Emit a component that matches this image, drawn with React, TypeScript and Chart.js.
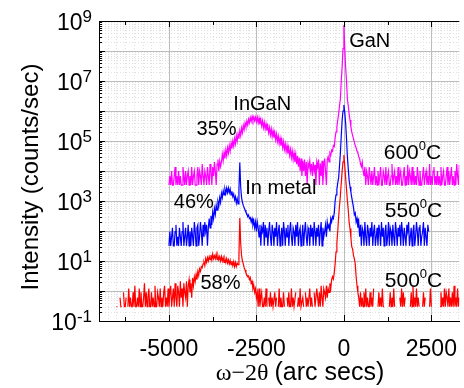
import React, { useEffect, useRef } from 'react';
import { Chart, registerables } from 'chart.js';

Chart.register(...registerables);

// ω–2θ positions (arc secs), one row per 500 arc secs
const X = [
  -6500, -6475, -6450, -6425, -6400, -6375, -6350, -6325, -6300, -6275, -6250, -6225, -6200, -6175, -6150, -6125, -6100, -6075, -6050, -6025,
  -6000, -5975, -5950, -5925, -5900, -5875, -5850, -5825, -5800, -5775, -5750, -5725, -5700, -5675, -5650, -5625, -5600, -5575, -5550, -5525,
  -5500, -5475, -5450, -5425, -5400, -5375, -5350, -5325, -5300, -5275, -5250, -5225, -5200, -5175, -5150, -5125, -5100, -5075, -5050, -5025,
  -5000, -4975, -4950, -4925, -4900, -4875, -4850, -4825, -4800, -4775, -4750, -4725, -4700, -4675, -4650, -4625, -4600, -4575, -4550, -4525,
  -4500, -4475, -4450, -4425, -4400, -4375, -4350, -4325, -4300, -4275, -4250, -4225, -4200, -4175, -4150, -4125, -4100, -4075, -4050, -4025,
  -4000, -3975, -3950, -3925, -3900, -3875, -3850, -3825, -3800, -3775, -3750, -3725, -3700, -3675, -3650, -3625, -3600, -3575, -3550, -3525,
  -3500, -3475, -3450, -3425, -3400, -3375, -3350, -3325, -3300, -3275, -3250, -3225, -3200, -3175, -3150, -3125, -3100, -3075, -3050, -3025,
  -3000, -2975, -2950, -2925, -2900, -2875, -2850, -2825, -2800, -2775, -2750, -2725, -2700, -2675, -2650, -2625, -2600, -2575, -2550, -2525,
  -2500, -2475, -2450, -2425, -2400, -2375, -2350, -2325, -2300, -2275, -2250, -2225, -2200, -2175, -2150, -2125, -2100, -2075, -2050, -2025,
  -2000, -1975, -1950, -1925, -1900, -1875, -1850, -1825, -1800, -1775, -1750, -1725, -1700, -1675, -1650, -1625, -1600, -1575, -1550, -1525,
  -1500, -1475, -1450, -1425, -1400, -1375, -1350, -1325, -1300, -1275, -1250, -1225, -1200, -1175, -1150, -1125, -1100, -1075, -1050, -1025,
  -1000, -975, -950, -925, -900, -875, -850, -825, -800, -775, -750, -725, -700, -675, -650, -625, -600, -575, -550, -525,
  -500, -475, -450, -425, -400, -375, -350, -325, -300, -275, -250, -225, -200, -175, -150, -125, -100, -75, -50, -25,
  0, 25, 50, 75, 100, 125, 150, 175, 200, 225, 250, 275, 300, 325, 350, 375, 400, 425, 450, 475,
  500, 525, 550, 575, 600, 625, 650, 675, 700, 725, 750, 775, 800, 825, 850, 875, 900, 925, 950, 975,
  1000, 1025, 1050, 1075, 1100, 1125, 1150, 1175, 1200, 1225, 1250, 1275, 1300, 1325, 1350, 1375, 1400, 1425, 1450, 1475,
  1500, 1525, 1550, 1575, 1600, 1625, 1650, 1675, 1700, 1725, 1750, 1775, 1800, 1825, 1850, 1875, 1900, 1925, 1950, 1975,
  2000, 2025, 2050, 2075, 2100, 2125, 2150, 2175, 2200, 2225, 2250, 2275, 2300, 2325, 2350, 2375, 2400, 2425, 2450, 2475,
  2500, 2525, 2550, 2575, 2600, 2625, 2650, 2675, 2700, 2725, 2750, 2775, 2800, 2825, 2850, 2875, 2900, 2925, 2950, 2975,
  3000, 3025, 3050, 3075, 3100, 3125, 3150, 3175, 3200, 3225, 3250, 3275, 3300,
];

// 600°C scan (counts/sec)
const M600 = [
  null, null, null, null, null, null, null, null, null, null, null, null, null, null, null, null, null, null, null, null,
  null, null, null, null, null, null, null, null, null, null, null, null, null, null, null, null, null, null, null, null,
  null, null, null, null, null, null, null, null, null, null, null, null, null, null, null, null, null, null, null, null,
  3400, 6800, 3400, 10000, 3400, 3400, 6800, 13500, 3400, 6800, 3400, 10000, 3400, 6800, 3400, 3400, 13500, 6800, 3400, 10000,
  3400, 6800, 10000, 3400, 6800, 3400, 13500, 3400, 6800, 10000, 3400, 3400, 6800, 13500, 3400, 10000, 6800, 3400, 17000, 6800,
  3400, 10000, 6800, 3400, 13500, 6800, 3400, 17000, 10000, 3400, 13500, 6800, 20000, 10000, 3400, 17000, 24000, 10000, 21000, 14000,
  20000, 36000, 22000, 42000, 26000, 50000, 32000, 60000, 40000, 70000, 46000, 85000, 56000, 100000, 68000, 120000, 80000, 150000, 100000, 170000,
  120000, 220000, 150000, 270000, 190000, 330000, 240000, 400000, 300000, 460000, 340000, 530000, 400000, 600000, 450000, 650000, 480000, 640000, 470000, 620000,
  440000, 620000, 400000, 580000, 360000, 520000, 320000, 470000, 280000, 420000, 250000, 370000, 220000, 320000, 190000, 280000, 160000, 250000, 140000, 220000,
  130000, 190000, 110000, 170000, 95000, 145000, 82000, 125000, 70000, 110000, 60000, 95000, 52000, 80000, 45000, 70000, 38000, 60000, 33000, 52000,
  28000, 46000, 24000, 40000, 20000, 36000, 17000, 32000, 14000, 28000, 10000, 26000, 6800, 22000, 10000, 24000, 6800, 20000, 3400, 18000,
  13500, 22000, 10000, 17000, 6800, 20000, 10000, 16000, 3400, 20000, 13500, 24000, 3400, 18000, 6800, 22000, 3400, 14000, 26000, 10000,
  3400, 24000, 30000, 20000, 40000, 34000, 50000, 45000, 70000, 65000, 130000, 200000, 300000, 500000, 800000, 1500000, 2500000, 10000000, 30000000, 120000000,
  740000000, 120000000, 30000000, 10000000, 2500000, 1500000, 800000, 500000, 300000, 200000, 150000, 120000, 90000, 70000, 60000, 45000, 40000, 30000, 26000, 17000,
  14000, 20000, 10000, 6800, 13500, 3400, 10000, 6800, 3400, 13500, 6800, 3400, 10000, 3400, 6800, 13500, 3400, 6800, 3400, 10000,
  3400, 6800, 13500, 3400, 3400, 10000, 6800, 3400, 13500, 3400, 6800, 10000, 3400, 3400, 6800, 17000, 3400, 6800, 10000, 3400,
  6800, 3400, 13500, 3400, 6800, 10000, 3400, 3400, 6800, 13500, 3400, 6800, 3400, 16000, 3400, 10000, 6800, 3400, 13500, 3400,
  10000, 3400, 6800, 3400, 13500, 6800, 3400, 10000, 3400, 3400, 6800, 13500, 3400, 6800, 10000, 3400, 6800, 3400, 17000, 3400,
  6800, 3400, 10000, 13500, 3400, 6800, 3400, 10000, 3400, 6800, 3400, 13500, 3400, 6800, 10000, 3400, 3400, 6800, 13500, 3400,
  10000, 3400, 6800, 13500, 3400, 6800, 3400, 10000, 3400, 17000, 6800, 3400, 16000,
];

// 550°C scan (counts/sec)
const B550 = [
  null, null, null, null, null, null, null, null, null, null, null, null, null, null, null, null, null, null, null, null,
  null, null, null, null, null, null, null, null, null, null, null, null, null, null, null, null, null, null, null, null,
  null, null, null, null, null, null, null, null, null, null, null, null, null, null, null, null, null, null, null, null,
  32, 96, 32, 64, 128, 32, 32, 96, 160, 32, 64, 32, 128, 64, 32, 96, 200, 32, 64, 128,
  32, 64, 160, 32, 96, 32, 128, 64, 32, 200, 96, 32, 128, 160, 32, 64, 200, 96, 32, 160,
  64, 200, 96, 160, 32, 128, 260, 128, 320, 160, 420, 260, 560, 360, 720, 500, 950, 700, 1300, 900,
  1800, 1300, 2200, 1600, 2500, 1800, 2700, 1900, 2700, 1900, 2500, 1600, 2100, 1400, 1700, 1100, 1400, 850, 1200, 800,
  2500, 19000, 3000, 1300, 900, 700, 600, 500, 420, 380, 300, 340, 260, 280, 200, 260, 160, 220, 128, 200,
  96, 200, 128, 64, 160, 32, 128, 96, 200, 32, 160, 64, 128, 32, 96, 200, 64, 32, 160, 96,
  32, 128, 64, 200, 32, 96, 160, 32, 64, 128, 32, 200, 96, 32, 128, 64, 160, 32, 96, 200,
  64, 32, 128, 96, 32, 160, 64, 200, 32, 96, 128, 32, 64, 160, 32, 96, 200, 64, 32, 128,
  96, 32, 160, 64, 128, 32, 200, 96, 32, 128, 64, 160, 32, 96, 200, 32, 128, 64, 96, 160,
  64, 200, 128, 160, 96, 260, 200, 300, 260, 400, 1000, 1600, 2500, 4000, 6000, 15000, 40000, 150000, 500000, 1000000,
  1600000, 900000, 400000, 120000, 30000, 12000, 5000, 3000, 2000, 1300, 900, 600, 350, 400, 200, 260, 128, 200, 64, 160,
  32, 128, 96, 32, 200, 64, 32, 160, 96, 32, 128, 64, 200, 32, 96, 160, 32, 64, 128, 32,
  160, 96, 32, 200, 64, 128, 32, 96, 160, 32, 64, 200, 32, 128, 96, 32, 160, 64, 32, 200,
  96, 32, 128, 64, 160, 32, 200, 96, 32, 128, 64, 32, 160, 96, 200, 32, 64, 128, 32, 96,
  160, 32, 64, 200, 96, 32, 128, 160, 32, 64, 96, 200, 32, 128, 64, 32, 160, 96, null, null,
  null, null, null, null, null, null, null, null, null, null, null, null, null, null, null, null, null, null, null, null,
  null, null, null, null, null, null, null, null, null, null, null, null, null,
];

// 500°C scan (counts/sec)
const R500 = [
  0.3, 0.3, null, null, 0.6, 0.3, 0.3, null, 0.9, 0.3, 0.3, 0.6, null, 0.3, 1.2, 0.3, 0.6, 0.3, 0.3, 0.9,
  0.3, 1.5, 0.3, 0.3, 0.6, 0.3, 1.2, 0.3, 0.9, 0.3, 0.3, 0.6, 1.8, 0.3, 0.9, 0.3, 0.6, 1.2, 0.3, 0.3,
  0.9, 0.3, 0.6, 0.3, 1.5, 0.3, 0.3, 0.9, 0.6, 0.3, 1.2, 0.3, 0.6, 0.3, 0.9, 1.5, 0.3, 0.6, 0.3, 1.2,
  0.3, 0.9, 1.5, 0.3, 0.6, 1.2, 0.3, 1.8, 0.6, 0.3, 1.5, 0.9, 0.3, 2.1, 0.6, 1.2, 0.3, 1.8, 0.9, 0.6,
  2.1, 0.3, 1.5, 2.4, 0.9, 1.8, 0.6, 2.7, 1.5, 3.0, 2.1, 3.6, 2.4, 4.5, 3.3, 5.5, 4.5, 6.5, 6, 8,
  9, 7, 12, 9, 13, 10, 14, 11, 16, 11, 17, 12, 15, 12, 17, 11, 15, 11, 14, 10,
  14, 10, 13, 9, 12, 9, 12, 8.5, 11, 8, 10.5, 7.5, 10, 7, 9.5, 6.5, 9, 6.5, 8.5, 7.5,
  15, 270, 40, 15, 10, 8, 6, 5, 4, 3.5, 3, 3.2, 2.4, 2.8, 1.8, 2.1, 1.2, 1.5, 0.9, 1.2,
  0.6, 0.9, 0.3, 1.2, 0.3, 0.6, 0.9, 0.3, 0.3, 0.6, 0.3, 1.2, 0.3, null, 0.6, 0.3, 0.9, 0.3, 0.6, 0.3,
  0.3, 0.9, 0.3, 0.6, null, 0.3, 1.2, 0.3, 0.6, 0.3, 0.3, 0.9, 0.3, null, null, 0.6, 0.3, 0.9, 0.3, 0.3,
  1.2, 0.3, 0.6, 0.3, 0.3, 0.9, null, 0.3, 0.6, 0.3, 1.2, 0.3, 0.3, 0.6, 0.3, null, 0.9, 0.3, 0.6, 0.3,
  0.3, 1.2, 0.3, 0.6, 0.3, null, 0.9, 0.3, 0.3, 1.2, 0.6, 0.3, 0.9, 0.3, 1.5, 0.6, 0.3, 1.2, 0.9, 0.6,
  1.5, 0.6, 1.2, 0.9, 1.8, 1.2, 2.4, 3, 2.5, 4, 8, 20, 40, 100, 300, 700, 1500, 4000, 10000, 20000,
  34000, 15000, 6000, 2500, 1000, 500, 200, 120, 60, 30, 25, 15, 12, 8, 3, 1.5, 0.9, 0.6, 0.3, 0.9,
  0.3, 0.6, 0.3, 0.9, 0.3, 1.2, 0.3, 0.6, 0.3, 0.3, 0.9, 0.3, 0.6, 0.3, 1.2, null, null, null, null, 0.3,
  0.9, 0.3, 0.6, 0.3, 1.2, 0.3, 0.3, null, null, null, null, null, 0.3, 0.9, 0.3, 0.6, 0.3, 1.2, 0.3, null,
  null, null, null, null, 0.6, 0.3, 1.2, 0.3, 0.9, 0.3, 0.6, null, null, null, null, null, 0.3, 0.9, 0.3, 1.5,
  0.3, 0.6, 0.3, 1.2, 0.3, 0.6, 0.3, null, null, null, 0.3, 0.9, 0.3, 0.6, null, null, null, null, 0.3, 1.2,
  0.3, null, null, null, null, null, null, null, null, null, 0.3, 0.9, 0.3, 0.6, 0.3, 1.2, 0.3, 0.9, 0.6, 0.3,
  1.2, 0.3, 0.6, 0.3, 0.9, 0.3, 1.5, 0.3, 0.6, 0.3, 1.2, 0.3, 0.6,
];

const X_MIN = -7000;
const X_MAX = 3300;
const Y_MIN = 0.1;
const Y_MAX = 1e9;
const X_TICK_VALUES = [-5000, -2500, 0, 2500];
const X_MINOR_MARKS = [-6250, -3750, -1250, 1250];
const Y_LABEL_EXPONENTS = [-1, 1, 3, 5, 7, 9];

// annotation texts anchored in data coordinates (left edge, baseline)
const PEAK_LABELS = [
  { text: 'GaN', x: 150, y: 1.4e8 },
  { text: 'InGaN', x: -3160, y: 1.1e6 },
  { text: '35%', x: -4210, y: 1.6e5 },
  { text: 'In metal', x: -2820, y: 1700 },
  { text: '46%', x: -4860, y: 590 },
  { text: '58%', x: -4100, y: 1.17 },
];
const TEMP_LABELS = [
  { text: '600', x: 1140, y: 25000 },
  { text: '550', x: 1170, y: 290 },
  { text: '500', x: 1170, y: 1.35 },
];

const SANS = "'Liberation Sans', Arial, Helvetica, sans-serif";
const SERIF = "'Liberation Serif', 'Times New Roman', serif";

const decor = {
  id: 'decor',
  beforeDatasetsDraw(chart: any) {
    const { ctx, chartArea: a, scales } = chart;
    const xs = scales.x;
    const ys = scales.y;
    ctx.save();
    ctx.lineWidth = 1;
    ctx.strokeStyle = '#e0e0e0';
    ctx.setLineDash([1, 2]);
    ctx.beginPath();
    for (let v = X_MIN + 250; v < X_MAX; v += 250) {
      if (v % 2500 === 0) continue;
      const px = Math.round(xs.getPixelForValue(v)) + 0.5;
      ctx.moveTo(px, a.top);
      ctx.lineTo(px, a.bottom);
    }
    for (let e = -1; e < 9; e++) {
      for (let s = 2; s <= 9; s++) {
        const py = Math.round(ys.getPixelForValue(s * Math.pow(10, e))) + 0.5;
        ctx.moveTo(a.left, py);
        ctx.lineTo(a.right, py);
      }
    }
    ctx.stroke();
    ctx.setLineDash([]);
    ctx.strokeStyle = '#bdbdbd';
    ctx.beginPath();
    X_TICK_VALUES.forEach((v) => {
      const px = Math.round(xs.getPixelForValue(v)) + 0.5;
      ctx.moveTo(px, a.top);
      ctx.lineTo(px, a.bottom);
    });
    for (let e = 0; e <= 8; e++) {
      const py = Math.round(ys.getPixelForValue(Math.pow(10, e))) + 0.5;
      ctx.moveTo(a.left, py);
      ctx.lineTo(a.right, py);
    }
    ctx.stroke();
    ctx.restore();
  },
  afterDatasetsDraw(chart: any) {
    const { ctx, chartArea: a, scales } = chart;
    const xs = scales.x;
    const ys = scales.y;
    ctx.save();
    ctx.strokeStyle = '#000';
    ctx.lineWidth = 1;
    ctx.beginPath();
    ctx.moveTo(a.left, Math.round(a.top) + 0.5);
    ctx.lineTo(a.right, Math.round(a.top) + 0.5);
    const markX = (v: number, len: number) => {
      const px = Math.round(xs.getPixelForValue(v)) + 0.5;
      ctx.moveTo(px, a.bottom);
      ctx.lineTo(px, a.bottom - len);
      ctx.moveTo(px, a.top);
      ctx.lineTo(px, a.top + len);
    };
    X_TICK_VALUES.forEach((v) => markX(v, 6));
    X_MINOR_MARKS.forEach((v) => markX(v, 4));
    for (let e = -1; e <= 9; e++) {
      for (let s = 1; s <= 9; s++) {
        const val = s * Math.pow(10, e);
        if (val > Y_MAX) break;
        const py = Math.round(ys.getPixelForValue(val)) + 0.5;
        ctx.moveTo(a.left, py);
        ctx.lineTo(a.left + (s === 1 ? 6 : 3), py);
      }
    }
    ctx.stroke();

    ctx.fillStyle = '#000';
    const right = 92;
    Y_LABEL_EXPONENTS.forEach((e) => {
      const py = ys.getPixelForValue(Math.pow(10, e));
      const exp = String(e);
      ctx.font = `17px ${SANS}`;
      ctx.textAlign = 'left';
      ctx.textBaseline = 'alphabetic';
      const ew = ctx.measureText(exp).width;
      ctx.fillText(exp, right - ew, py + 1);
      ctx.font = `23px ${SANS}`;
      const bw = ctx.measureText('10').width;
      ctx.fillText('10', right - ew - bw, py + 8.5);
    });

    ctx.font = `24px ${SANS}`;
    ctx.textAlign = 'center';
    ctx.textBaseline = 'alphabetic';
    ctx.save();
    ctx.translate(38, 177);
    ctx.rotate(-Math.PI / 2);
    ctx.fillText('Intensity (counts/sec)', 0, 0);
    ctx.restore();

    const part1 = 'ω−2θ ';
    const part2 = '(arc secs)';
    ctx.font = `24px ${SERIF}`;
    const w1 = ctx.measureText(part1).width;
    ctx.font = `25px ${SANS}`;
    const w2 = ctx.measureText(part2).width;
    const startX = 300 - (w1 + w2) / 2;
    ctx.textAlign = 'left';
    ctx.font = `24px ${SERIF}`;
    ctx.fillText(part1, startX, 380);
    ctx.font = `25px ${SANS}`;
    ctx.fillText(part2, startX + w1, 380);

    ctx.font = `20px ${SANS}`;
    PEAK_LABELS.forEach((l) => {
      ctx.fillText(l.text, xs.getPixelForValue(l.x), ys.getPixelForValue(l.y));
    });
    TEMP_LABELS.forEach((l) => {
      const px = xs.getPixelForValue(l.x);
      const py = ys.getPixelForValue(l.y);
      ctx.font = `21px ${SANS}`;
      ctx.fillText(l.text, px, py);
      const w = ctx.measureText(l.text).width;
      ctx.font = `13px ${SANS}`;
      ctx.fillText('0', px + w, py - 9);
      const w0 = ctx.measureText('0').width;
      ctx.font = `21px ${SANS}`;
      ctx.fillText('C', px + w + w0, py);
    });
    ctx.restore();
  },
};

export default function App() {
  const ref = useRef<HTMLCanvasElement>(null);
  useEffect(() => {
    const canvas = ref.current;
    if (!canvas) return;
    const mk = (vals: (number | null)[]) => X.map((x, i) => ({ x, y: vals[i] }));
    const common = { pointRadius: 0, borderWidth: 1.2, fill: false, tension: 0, spanGaps: false };
    const chart = new Chart(canvas, {
      type: 'line',
      data: {
        datasets: [
          { label: '500°C', data: mk(R500), borderColor: '#ff0000', ...common },
          { label: '550°C', data: mk(B550), borderColor: '#0000ff', ...common },
          { label: '600°C', data: mk(M600), borderColor: '#ff00ff', ...common },
        ] as any,
      },
      options: {
        animation: false,
        responsive: false,
        devicePixelRatio: 1,
        layout: { padding: { top: 21, right: 1, left: 0, bottom: 0 } },
        plugins: { legend: { display: false }, tooltip: { enabled: false } },
        scales: {
          x: {
            type: 'linear',
            position: 'bottom',
            min: X_MIN,
            max: X_MAX,
            grid: { display: false },
            border: { display: true, color: '#000', width: 1 },
            ticks: {
              color: '#000',
              font: { family: SANS, size: 23 },
              padding: 7,
              autoSkip: false,
              maxRotation: 0,
              callback: (v: any) => String(v),
            },
            afterBuildTicks: (s: any) => {
              s.ticks = X_TICK_VALUES.map((v) => ({ value: v }));
            },
            afterFit: (s: any) => {
              s.height = 67;
            },
          },
          y: {
            type: 'logarithmic',
            min: Y_MIN,
            max: Y_MAX,
            grid: { display: false },
            border: { display: true, color: '#000', width: 1 },
            ticks: { display: false },
            afterFit: (s: any) => {
              s.width = 99;
            },
          },
        },
      } as any,
      plugins: [decor],
    });
    return () => chart.destroy();
  }, []);
  return (
    <div style={{ position: 'absolute', left: 0, top: 0, width: 464, height: 388 }}>
      <canvas ref={ref} width={464} height={388} style={{ display: 'block' }} />
    </div>
  );
}
